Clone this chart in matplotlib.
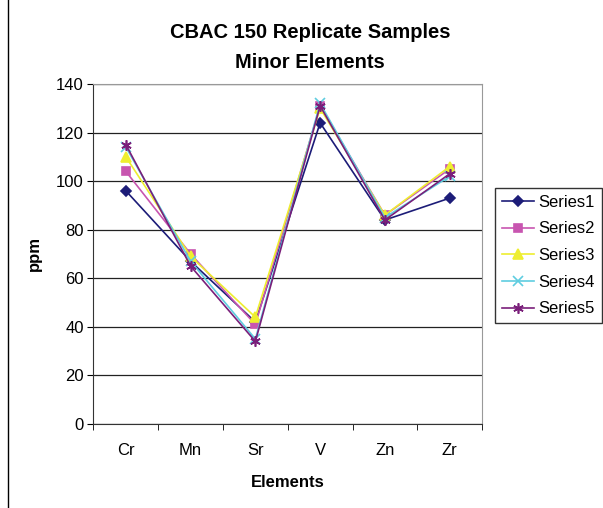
import matplotlib.pyplot as plt
from matplotlib.lines import Line2D

elements = ['Cr', 'Mn', 'Sr', 'V', 'Zn', 'Zr']
series1 = [96, 67, 42, 124, 84, 93]
series2 = [104, 70, 41, 131, 86, 105]
series3 = [110, 69, 44, 130, 86, 106]
series4 = [114, 67, 35, 132, 85, 102]
series5 = [115, 65, 34, 131, 84, 103]
names = ['Series1', 'Series2', 'Series3', 'Series4', 'Series5']

plt.rcParams['font.family'] = ['Liberation Sans', 'DejaVu Sans']
fig = plt.figure(figsize=(6.03, 5.08), dpi=100)
ax = fig.add_axes([93.5 / 603, 1 - 424 / 508, 388.5 / 603, 340 / 508])

styles = [
    ('#1c1c78', 'D', 5.5),
    ('#c855b0', 's', 6),
    ('#eeee30', '^', 6.5),
    ('#5fcde0', 'x', 6.5),
    ('#7a1f7a', (6, 2, 0), 7.5),
]
x = range(len(elements))
for vals, name, (c, m, ms) in zip([series1, series2, series3, series4, series5], names, styles):
    ax.plot(x, vals, color=c, marker=m, markersize=ms, linewidth=1.2,
            markeredgewidth=1.2, label=name)

ax.set_xlim(-0.5, 5.5)
ax.set_ylim(0, 140)
ax.set_yticks(range(0, 141, 20))
ax.set_xticks(list(x))
ax.set_xticklabels(elements)
ax.set_xticks([i + 0.5 for i in range(-1, 6)], minor=True)
ax.tick_params(axis='x', which='major', length=0, labelsize=12, pad=14)
ax.tick_params(axis='x', which='minor', length=4, direction='out')
ax.tick_params(axis='y', labelsize=12, length=4, pad=3)
ax.grid(axis='y', color='#222222', linewidth=0.9)
ax.set_axisbelow(True)
for s in ['top', 'right']:
    ax.spines[s].set_color('#999999')
for s in ['left', 'bottom']:
    ax.spines[s].set_color('#333333')

ax.set_xlabel('Elements', fontsize=12, fontweight='bold', labelpad=12)
ax.set_ylabel('ppm', fontsize=12, fontweight='bold', labelpad=10)
fig.text(310 / 603, 1 - 33 / 508, 'CBAC 150 Replicate Samples', ha='center', va='center',
         fontsize=14.5, fontweight='bold')
fig.text(310 / 603, 1 - 63 / 508, 'Minor Elements', ha='center', va='center',
         fontsize=14.5, fontweight='bold')

leg = ax.legend(loc='center left', bbox_to_anchor=(495 / 603, 1 - 255.5 / 508),
                bbox_transform=fig.transFigure, fontsize=12, frameon=True,
                fancybox=False, handlelength=1.95, handletextpad=0.25,
                labelspacing=0.7, borderpad=0.4, borderaxespad=0)
leg.get_frame().set_edgecolor('black')
leg.get_frame().set_linewidth(1)

fig.lines.append(Line2D([7.5 / 603, 7.5 / 603], [0, 1], transform=fig.transFigure,
                        color='black', linewidth=1))
fig.savefig('out.png', dpi=100)
